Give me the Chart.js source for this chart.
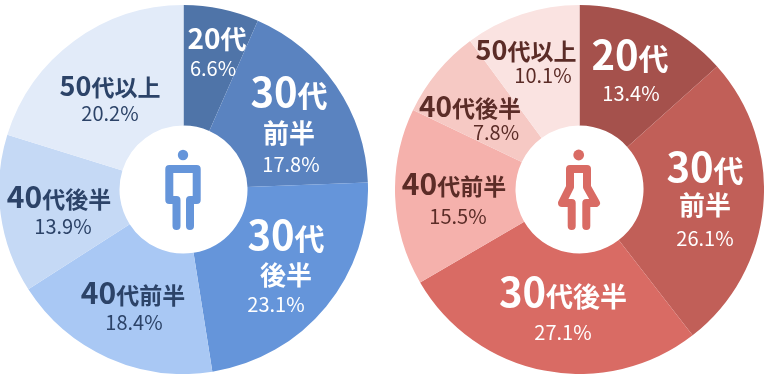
<!DOCTYPE html>
<html lang="ja">
<head>
<meta charset="utf-8">
<title>年代別構成比</title>
<script src="https://cdn.jsdelivr.net/npm/chart.js@4"></script>
<style>
    html, body { margin: 0; padding: 0; background: #fff; overflow: hidden; }
    body { width: 770px; height: 377px; position: relative; }
    canvas { position: absolute; top: 5px; }
    #maleChart { left: -1px; }
    #femaleChart { left: 395px; }
</style>
</head>
<body>
<canvas id="maleChart" width="369" height="369"></canvas>
<canvas id="femaleChart" width="369" height="369"></canvas>
<script>
const categories = ['20代', '30代前半', '30代後半', '40代前半', '40代後半', '50代以上'];
const maleValues = [6.6, 17.8, 23.1, 18.4, 13.9, 20.2];
const femaleValues = [13.4, 26.1, 27.1, 15.5, 7.8, 10.1];

const maleColors = ['#4f74a8', '#5a83c0', '#6595da', '#a9c8f4', '#c5d9f5', '#e2ebf9'];
const femaleColors = ['#a5514c', '#c15f58', '#d96b64', '#f5b1ac', '#f6c9c4', '#fae3e1'];
const maleTextColors = ['#fff', '#fff', '#fff', '#2c4368', '#2c4368', '#2c4368'];
const femaleTextColors = ['#fff', '#fff', '#fff', '#5b2c27', '#5b2c27', '#5b2c27'];

const FONT = '"Noto Sans CJK JP", "Noto Sans", sans-serif';

// label placement in page pixels: title lines as [x, baseline, runs], then the percent as [x, baseline]
const maleLabels = [
    { lines: [[217, 49, [['20', 28], ['代', 26]]]], pct: [213, 76] },
    { lines: [[289, 107, [['30', 40], ['代', 30]]], [289, 143, [['前半', 26]]]], pct: [291, 172] },
    { lines: [[286, 250, [['30', 40], ['代', 30]]], [286, 285, [['後半', 26]]]], pct: [276, 312] },
    { lines: [[133, 304, [['40', 30], ['代前半', 23]]]], pct: [134, 330] },
    { lines: [[59, 208, [['40', 30], ['代後半', 23]]]], pct: [63, 234] },
    { lines: [[110, 96, [['50', 27], ['代以上', 23]]]], pct: [110, 121] }
];
const femaleLabels = [
    { lines: [[630, 70, [['20', 40], ['代', 30]]]], pct: [631, 101] },
    { lines: [[705, 182, [['30', 40], ['代', 30]]], [705, 215, [['前半', 26]]]], pct: [705, 246] },
    { lines: [[563, 307, [['30', 40], ['代後半', 27]]]], pct: [563, 340] },
    { lines: [[454, 195, [['40', 30], ['代前半', 23]]]], pct: [458, 224] },
    { lines: [[470, 117, [['40', 28], ['代後半', 23]]]], pct: [496, 140] },
    { lines: [[526, 60, [['50', 27], ['代以上', 23]]]], pct: [543, 83] }
];

// pictograms, polylines in page pixels
const maleIcon = {
    head: [183, 155, 5.2],
    path: [[176.5, 226], [176.5, 200], [169.3, 200], [169.3, 169], [196.7, 169], [196.7, 200], [190, 200], [190, 226]]
};
const femaleIcon = {
    head: [578.7, 155, 5.4],
    path: [[571.7, 226], [571.7, 203], [562, 203], [570, 187], [570, 169], [587, 169], [587, 187], [596, 203], [586.3, 203], [586.3, 226]]
};

function drawIcon(ctx, icon, color) {
    ctx.fillStyle = color;
    ctx.strokeStyle = color;
    ctx.lineWidth = 8;
    ctx.lineCap = 'round';
    ctx.lineJoin = 'round';
    ctx.beginPath();
    ctx.arc(icon.head[0], icon.head[1], icon.head[2], 0, Math.PI * 2);
    ctx.fill();
    ctx.beginPath();
    icon.path.forEach((p, i) => i ? ctx.lineTo(p[0], p[1]) : ctx.moveTo(p[0], p[1]));
    ctx.stroke();
}

function drawRuns(ctx, x, y, runs) {
    const font = size => `700 ${size}px ${FONT}`;
    let total = 0;
    runs.forEach(r => { ctx.font = font(r[1]); total += ctx.measureText(r[0]).width; });
    let cursor = x - total / 2;
    ctx.textAlign = 'left';
    runs.forEach(r => {
        ctx.font = font(r[1]);
        ctx.fillText(r[0], cursor, y);
        cursor += ctx.measureText(r[0]).width;
    });
}

function makeChart(id, values, colors, textColors, labels, icon, iconColor, offsetX, offsetY) {
    const overlay = {
        id: 'overlay',
        afterDraw(chart) {
            const ctx = chart.ctx;
            ctx.save();
            ctx.translate(-offsetX, -offsetY);
            drawIcon(ctx, icon, iconColor);
            ctx.textBaseline = 'alphabetic';
            labels.forEach((label, i) => {
                ctx.fillStyle = textColors[i];
                label.lines.forEach(line => drawRuns(ctx, line[0], line[1], line[2]));
                ctx.font = `400 20px ${FONT}`;
                ctx.textAlign = 'center';
                ctx.fillText(values[i].toFixed(1) + '%', label.pct[0], label.pct[1]);
            });
            ctx.restore();
        }
    };

    return new Chart(document.getElementById(id).getContext('2d'), {
        type: 'doughnut',
        data: {
            labels: categories,
            datasets: [{
                data: values,
                backgroundColor: colors,
                borderWidth: 0
            }]
        },
        options: {
            responsive: false,
            animation: false,
            cutout: 64,
            layout: { padding: 0 },
            plugins: {
                legend: { display: false },
                tooltip: { enabled: false }
            }
        },
        plugins: [overlay]
    });
}

makeChart('maleChart', maleValues, maleColors, maleTextColors, maleLabels, maleIcon, '#6595da', -1, 5);
makeChart('femaleChart', femaleValues, femaleColors, femaleTextColors, femaleLabels, femaleIcon, '#d96b64', 395, 5);
</script>
</body>
</html>
